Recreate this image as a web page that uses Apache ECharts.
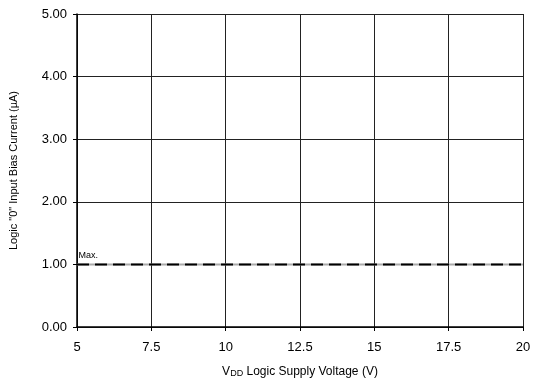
<!DOCTYPE html>
<html><head><meta charset="utf-8">
<script src="https://cdn.jsdelivr.net/npm/echarts@6/dist/echarts.min.js"></script>
<style>html,body{margin:0;padding:0;background:#fff}#c{width:536px;height:386px}</style>
</head><body><div id="c"></div>
<script>
const xTicks = [5, 7.5, 10, 12.5, 15, 17.5, 20];
const yTicks = [0, 1, 2, 3, 4, 5];
const maxLineX = [5, 20];
const maxLineY = [1, 1];
const maxLabel = 'Max.';

const chart = echarts.init(document.getElementById('c'));
const lineData = maxLineX.map((x, i) => [x, maxLineY[i]]);
chart.setOption({
  animation: false,
  grid: {left: 74, right: 13, top: 14, bottom: 59, containLabel: false},
  xAxis: {
    type: 'value', min: xTicks[0], max: xTicks[xTicks.length - 1], interval: 2.5,
    axisLine: {show: true, lineStyle: {color: '#000', width: 1.5}},
    axisTick: {show: true, length: 4, lineStyle: {color: '#000'}},
    axisLabel: {color: '#000', fontSize: 13, fontFamily: 'Liberation Sans, Arial', margin: 14},
    splitLine: {show: true, lineStyle: {color: '#222', width: 1}},
    name: '{n|V}{s|DD}{n| Logic Supply Voltage (V)}',
    nameLocation: 'middle', nameGap: 38,
    nameTextStyle: {rich: {
      n: {fontSize: 12, color: '#000', fontFamily: 'Liberation Sans, Arial'},
      s: {fontSize: 9, color: '#000', fontFamily: 'Liberation Sans, Arial', verticalAlign: 'bottom', padding: [4, 0, 0, 0]}
    }}
  },
  yAxis: {
    type: 'value', min: yTicks[0], max: yTicks[yTicks.length - 1], interval: 1,
    axisLine: {show: true, lineStyle: {color: '#000', width: 1.5}},
    axisTick: {show: true, length: 4, lineStyle: {color: '#000'}},
    axisLabel: {color: '#000', fontSize: 13, fontFamily: 'Liberation Sans, Arial', margin: 10,
      formatter: v => v.toFixed(2)},
    splitLine: {show: true, lineStyle: {color: '#222', width: 1}},
    name: 'Logic "0" Input Bias Current (µA)', nameLocation: 'middle', nameGap: 58,
    nameTextStyle: {fontSize: 11, color: '#000', fontFamily: 'Liberation Sans, Arial'}
  },
  series: [
    {type: 'line', data: lineData, symbol: 'none', silent: true,
      lineStyle: {color: '#aaa', width: 2}, z: 3},
    {type: 'line', data: lineData, symbol: 'none', silent: true,
      lineStyle: {color: '#000', width: 2, type: [12, 6]}, z: 4,
      markPoint: {symbol: 'circle', symbolSize: 1, itemStyle: {color: 'rgba(0,0,0,0)'},
        data: [{coord: lineData[0], label: {show: true, formatter: maxLabel,
        position: 'insideLeft', offset: [-3, -9], fontSize: 9, color: '#000', fontFamily: 'Liberation Sans, Arial'}}]}}
  ]
});
</script></body></html>
